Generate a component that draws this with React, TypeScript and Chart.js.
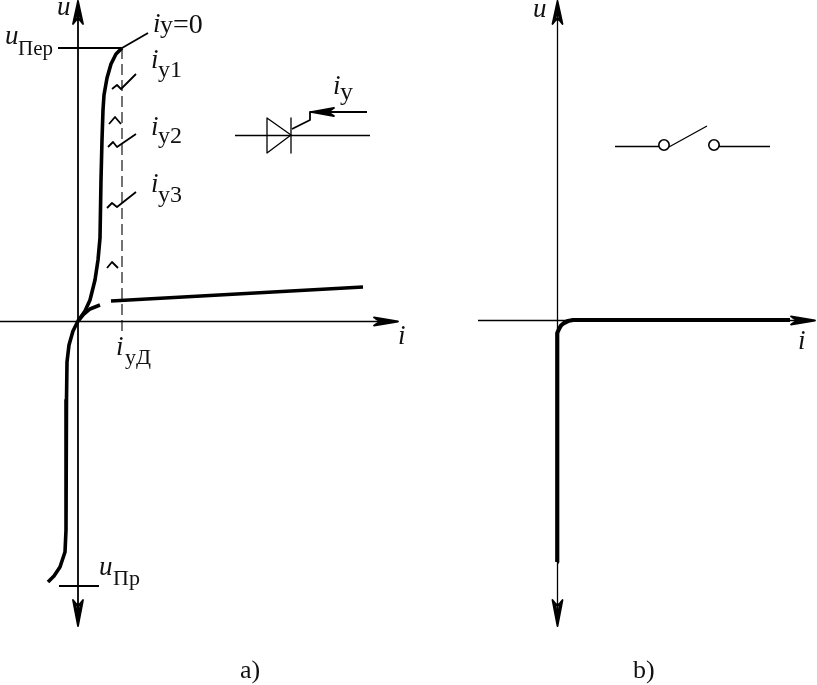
import React, { useEffect, useRef } from "react";
import { Chart, registerables } from "chart.js";

Chart.register(...registerables);

type P = [number, number];

const axisUa: P[] = [[78, 4], [78, 620]];
const axisIa: P[] = [[0, 321.5], [392, 321.5]];
const axisUb: P[] = [[557.5, 4], [557.5, 620]];
const axisIb: P[] = [[478, 320.5], [810, 320.5]];

const headUaTop: P[] = [[78, 1], [73, 24], [78, 18], [83, 24], [78, 1], [75.5, 21], [78, 1], [78, 20], [78, 1], [80.5, 21], [78, 1]];
const headUaBottom: P[] = [[78, 626], [73, 600], [78, 606], [83, 600], [78, 626], [75.5, 603], [78, 626], [78, 604], [78, 626], [80.5, 603], [78, 626]];
const headIa: P[] = [[398, 321.5], [374, 317.5], [380, 321.5], [374, 325.5], [398, 321.5], [377, 319.5], [398, 321.5], [377, 323.5], [398, 321.5]];
const headUbTop: P[] = [[557.5, 1], [552.5, 24], [557.5, 18], [562.5, 24], [557.5, 1], [555, 21], [557.5, 1], [557.5, 20], [557.5, 1], [560, 21], [557.5, 1]];
const headUbBottom: P[] = [[557.5, 626], [552.5, 600], [557.5, 606], [562.5, 600], [557.5, 626], [555, 603], [557.5, 626], [557.5, 604], [557.5, 626], [560, 603], [557.5, 626]];
const headIb: P[] = [[815, 320.5], [791, 316.5], [797, 320.5], [791, 324.5], [815, 320.5], [794, 318.5], [815, 320.5], [794, 322.5], [815, 320.5]];

const forwardCurve: P[] = [
  [122, 48], [116, 54], [111, 64], [107, 78], [104, 95], [103, 110], [102, 140], [101, 180], [100, 238],
  [98, 260], [95, 280], [90, 300], [85, 311], [78, 321], [73, 331], [69, 345], [67, 362], [66.5, 400],
  [66, 530], [65, 552], [60, 567], [54, 576], [48, 582],
];
const originBranch: P[] = [[78, 321], [83, 315], [90, 309], [100, 305]];
const onState: P[] = [[111, 301], [363, 287]];
const dashedTrigger: P[] = [[122, 48], [122, 332]];
const perLevel: P[] = [[58, 48], [122, 48]];
const prLevel: P[] = [[59, 586], [99, 586]];
const leaderZero: P[] = [[122, 48], [148, 33]];
const squiggle1: P[] = [[112, 89], [117, 85], [121, 89], [136, 74]];
const squiggle2: P[] = [[108, 147], [113, 142], [117, 147], [136, 134]];
const squiggle3: P[] = [[107, 208], [112, 203], [117, 207], [136, 192]];
const caret1: P[] = [[109, 124], [115, 117], [121, 124]];
const caret2: P[] = [[107, 268], [112, 262], [118, 268]];

const diodeWire: P[] = [[235, 135.5], [370, 135.5]];
const diodeTriangle: P[] = [[267, 118], [267, 153], [291, 135], [267, 118]];
const diodeBar: P[] = [[291, 118], [291, 153]];
const gateWire: P[] = [[292, 129], [310, 120], [310, 112], [367, 112]];
const gateHead: P[] = [[312, 112], [334, 108], [328, 112], [334, 116], [312, 112], [330, 110], [312, 112], [330, 114], [312, 112]];

const idealCurve: P[] = [
  [557, 562], [557, 338], [557.5, 333], [559, 329], [561, 325.5], [564, 323], [568, 321], [573, 320], [790, 320],
];
const switchLeft: P[] = [[615, 146.5], [659, 146.5]];
const switchBlade: P[] = [[669, 147], [707, 126]];
const switchRight: P[] = [[718, 146.5], [770, 146.5]];
const switchContacts: P[] = [[664, 145], [714, 145]];

const thin = [axisIa, axisUb, axisIb, switchLeft, switchBlade, switchRight, diodeWire, diodeTriangle, diodeBar];
const medium = [axisUa, perLevel, prLevel, leaderZero, squiggle1, squiggle2, squiggle3, caret1, caret2, gateWire,
  headUaTop, headUaBottom, headIa, headUbTop, headUbBottom, headIb, gateHead];
const heavy = [forwardCurve, originBranch, onState];

const labelTexts = ["u", "u", "Пер", "i", "у", "=0", "i", "у1", "i", "у2", "i", "у3", "i", "у", "i", "уД", "u", "Пр", "i", "i", "u", "a)", "b)"];
const labelAnchors: P[] = [
  [57, 15], [5, 44], [18, 55], [153, 32], [160, 33], [173, 33], [151, 68], [158, 77], [151, 135], [158, 143],
  [151, 192], [158, 202], [333, 94], [340, 100], [116, 355], [125, 364], [99, 575], [113, 585], [398, 344], [798, 349],
  [533, 17], [240, 678], [633, 678],
];
const labelItalic = [1, 1, 0, 1, 0, 0, 1, 0, 1, 0, 1, 0, 1, 0, 1, 0, 1, 0, 1, 1, 1, 0, 0];
const labelSizes = [27, 27, 21, 27, 26, 28, 27, 24, 27, 24, 27, 24, 27, 26, 27, 22, 27, 22, 27, 27, 27, 26, 26];

const labelPlugin = {
  id: "labels",
  afterDatasetsDraw(chart: any) {
    const { ctx, scales } = chart;
    ctx.save();
    ctx.fillStyle = "#111";
    ctx.textBaseline = "alphabetic";
    ctx.textAlign = "left";
    labelTexts.forEach((t, i) => {
      ctx.font = `${labelItalic[i] ? "italic " : ""}${labelSizes[i]}px "Liberation Serif"`;
      ctx.fillText(t, scales.x.getPixelForValue(labelAnchors[i][0]), scales.y.getPixelForValue(labelAnchors[i][1]));
    });
    ctx.restore();
  },
};

const toXY = (pts: P[]) => pts.map(([x, y]) => ({ x, y }));
const lineSet = (pts: P[], borderWidth: number, extra: object = {}) => ({
  data: toXY(pts),
  showLine: true,
  borderColor: "#000",
  borderWidth,
  pointRadius: 0,
  tension: 0,
  fill: false,
  borderJoinStyle: "round",
  borderCapStyle: "butt",
  clip: false,
  ...extra,
});

export default function App() {
  const ref = useRef<HTMLCanvasElement>(null);
  useEffect(() => {
    const chart = new Chart(ref.current as HTMLCanvasElement, {
      type: "scatter",
      data: {
        datasets: [
          ...thin.map((p) => lineSet(p, 1.3)),
          ...medium.map((p) => lineSet(p, 1.8)),
          ...heavy.map((p) => lineSet(p, 3.6)),
          lineSet(idealCurve, 4.2),
          lineSet(dashedTrigger, 1.1, { borderDash: [11, 5] }),
          {
            data: toXY(switchContacts),
            showLine: false,
            pointRadius: 5.2,
            pointBackgroundColor: "#fff",
            pointBorderColor: "#000",
            pointBorderWidth: 1.6,
          },
        ],
      } as any,
      options: {
        animation: false,
        responsive: false,
        layout: { padding: 0, autoPadding: false },
        plugins: { legend: { display: false }, tooltip: { enabled: false } },
        scales: {
          x: { type: "linear", min: 0, max: 817, display: false },
          y: { type: "linear", min: 0, max: 685, reverse: true, display: false },
        },
      },
      plugins: [labelPlugin],
    });
    return () => chart.destroy();
  }, []);
  return (
    <div style={{ position: "fixed", left: 0, top: 0, width: 817, height: 685, background: "#fff" }}>
      <canvas ref={ref} width={817} height={685} style={{ display: "block" }} />
    </div>
  );
}
